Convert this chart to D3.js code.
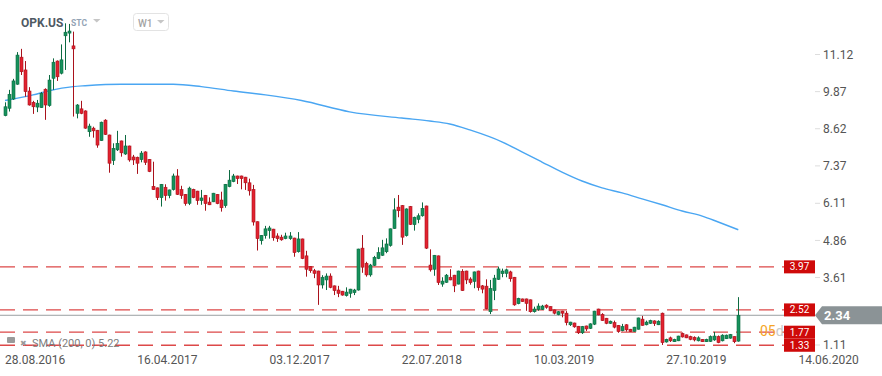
<!DOCTYPE html>
<html>
<head>
<meta charset="utf-8">
<script src="https://cdn.jsdelivr.net/npm/d3@7"></script>
<style>
  body { margin: 0; background: #fff; }
  svg { display: block; font-family: Roboto, 'Open Sans', sans-serif; }
</style>
</head>
<body>
<div id="chart"></div>
<script>
/* ===== Weekly candles, OPK.US ===== */

const FIRST_WEEK = '2016-08-28';

const OPEN = [
  9.06, 9.31, 9.62, 10.12, 11.03, 10.60, 9.89, 9.51, 9.35, 9.33,
  9.95, 9.40, 10.32, 10.90, 10.49, 11.75, 11.84, 11.41, 9.14, 9.29,
  9.22, 8.52, 8.64, 8.57, 8.22, 8.91, 8.41, 7.55, 7.91, 8.21,
  7.77, 8.04, 7.67, 7.66, 7.58, 7.84, 7.59, 6.68, 6.63, 6.30,
  6.65, 6.37, 6.57, 7.03, 6.57, 6.41, 6.11, 6.58, 6.52, 6.20,
  6.38, 6.15, 6.16, 6.41, 6.22, 6.03, 6.67, 6.84, 7.03, 7.03,
  6.99, 6.80, 6.58, 5.49, 4.85, 5.02, 5.19, 5.24, 5.01, 4.97,
  4.92, 4.92, 4.94, 4.48, 4.91, 4.34, 3.98, 3.84, 3.83, 3.36,
  3.53, 3.66, 3.33, 3.19, 3.15, 3.00, 3.08, 3.10, 3.19, 4.60,
  4.09, 3.70, 4.02, 4.25, 4.36, 4.48, 4.69, 5.26, 5.98, 6.03,
  5.02, 6.00, 5.39, 5.57, 5.69, 6.02, 4.03, 3.89, 4.34, 3.39,
  3.45, 3.62, 3.69, 3.39, 3.82, 3.83, 3.56, 3.48, 3.83, 3.33,
  3.32, 2.46, 3.17, 3.55, 3.74, 3.75, 3.80, 3.62, 2.73, 2.89,
  2.89, 2.86, 2.46, 2.54, 2.54, 2.68, 2.63, 2.52, 2.36, 2.48,
  2.41, 2.02, 2.08, 1.97, 1.75, 1.98, 1.90, 2.04, 2.55, 2.37,
  2.24, 2.07, 2.09, 2.00, 1.82, 2.02, 1.87, 1.80, 1.87, 2.21,
  2.02, 2.07, 2.15, 2.02, 2.41, 1.44, 1.58, 1.45, 1.48, 1.73,
  1.68, 1.62, 1.60, 1.48, 1.53, 1.45, 1.46, 1.51, 1.62, 1.48,
  1.55, 1.57, 1.62, 1.47
];

const HIGH = [
  9.51, 9.93, 10.30, 11.20, 11.31, 10.90, 10.02, 9.56, 9.59, 9.86,
  9.98, 10.43, 10.99, 10.92, 11.46, 12.17, 12.15, 11.89, 9.45, 9.56,
  9.24, 8.79, 8.69, 8.58, 8.86, 8.94, 8.42, 8.13, 8.55, 8.22,
  8.41, 8.05, 7.74, 7.68, 7.87, 7.86, 7.60, 7.51, 6.64, 6.76,
  6.75, 6.57, 7.11, 7.26, 6.70, 6.42, 6.67, 6.60, 6.53, 6.56,
  6.39, 6.31, 6.46, 6.42, 6.50, 6.76, 7.23, 7.10, 7.04, 7.04,
  7.00, 6.94, 6.73, 5.50, 5.04, 5.35, 5.35, 5.25, 5.10, 5.05,
  5.12, 5.14, 4.95, 5.14, 4.92, 4.51, 3.99, 3.90, 3.84, 3.69,
  3.75, 3.75, 3.34, 3.33, 3.16, 3.28, 3.23, 3.23, 4.58, 5.04,
  4.14, 4.07, 4.34, 4.63, 4.88, 4.93, 5.26, 6.28, 6.39, 6.05,
  5.94, 6.02, 5.66, 5.77, 6.14, 6.03, 4.56, 4.37, 4.35, 3.62,
  3.73, 3.89, 3.70, 3.84, 3.89, 3.84, 3.62, 3.81, 3.84, 3.36,
  3.55, 3.53, 3.70, 3.98, 3.91, 3.91, 3.84, 3.63, 2.93, 2.90,
  2.90, 2.87, 2.63, 2.74, 2.69, 2.71, 2.64, 2.53, 2.48, 2.49,
  2.48, 2.12, 2.09, 1.98, 1.98, 1.99, 2.07, 2.49, 2.56, 2.41,
  2.25, 2.16, 2.16, 2.01, 2.05, 2.04, 1.88, 1.95, 2.26, 2.32,
  2.16, 2.19, 2.17, 2.17, 2.43, 1.55, 1.62, 1.55, 1.65, 1.76,
  1.69, 1.65, 1.63, 1.63, 1.54, 1.55, 1.66, 1.78, 1.66, 1.70,
  1.69, 1.71, 1.63, 2.95
];

const LOW = [
  9.04, 9.20, 9.59, 10.10, 10.43, 9.70, 9.40, 9.12, 9.18, 9.32,
  8.92, 9.36, 9.93, 10.23, 10.45, 10.60, 11.53, 9.03, 8.97, 9.11,
  8.62, 8.35, 8.32, 7.98, 8.21, 8.41, 7.14, 7.40, 7.87, 7.68,
  7.74, 7.51, 7.40, 7.10, 7.49, 7.40, 7.16, 6.56, 6.22, 6.00,
  6.20, 6.28, 6.54, 6.39, 6.26, 6.03, 6.05, 6.28, 6.06, 6.06,
  5.86, 6.05, 6.15, 6.08, 5.83, 5.96, 6.65, 6.82, 6.76, 6.58,
  6.56, 6.37, 5.36, 4.52, 4.72, 4.92, 4.92, 4.85, 4.81, 4.85,
  4.90, 4.88, 4.31, 4.45, 4.23, 3.64, 3.77, 3.59, 2.69, 3.24,
  3.19, 3.25, 3.02, 2.95, 3.00, 2.97, 2.93, 3.02, 3.17, 3.77,
  3.64, 3.64, 4.00, 4.23, 4.34, 4.43, 4.65, 5.25, 5.64, 4.71,
  4.99, 5.38, 5.19, 5.44, 5.66, 4.57, 3.81, 3.67, 3.36, 3.30,
  3.43, 3.52, 3.12, 3.38, 3.16, 3.39, 3.37, 3.25, 3.17, 3.08,
  2.54, 2.38, 2.85, 3.53, 3.62, 3.62, 3.47, 2.66, 2.71, 2.79,
  2.49, 2.43, 2.43, 2.49, 2.52, 2.56, 2.48, 2.37, 2.34, 2.27,
  2.00, 1.98, 1.92, 1.71, 1.71, 1.81, 1.88, 2.01, 2.34, 2.15,
  2.04, 2.05, 1.90, 1.75, 1.80, 1.79, 1.78, 1.79, 1.86, 1.99,
  2.00, 2.05, 1.98, 2.01, 1.34, 1.42, 1.44, 1.44, 1.47, 1.59,
  1.57, 1.50, 1.46, 1.46, 1.44, 1.44, 1.44, 1.48, 1.40, 1.46,
  1.54, 1.55, 1.40, 1.45
];

const CLOSE = [
  9.36, 9.78, 10.23, 11.10, 10.54, 9.87, 9.42, 9.36, 9.48, 9.81,
  9.42, 10.26, 10.86, 10.37, 10.94, 11.87, 11.91, 11.31, 9.42, 9.14,
  8.64, 8.71, 8.55, 8.07, 8.84, 8.43, 7.46, 7.96, 8.13, 7.81,
  8.04, 7.57, 7.57, 7.46, 7.80, 7.49, 7.18, 6.57, 6.30, 6.75,
  6.37, 6.56, 7.03, 6.41, 6.37, 6.10, 6.62, 6.30, 6.20, 6.29,
  6.10, 6.06, 6.45, 6.10, 5.96, 6.75, 6.89, 7.03, 6.94, 6.94,
  6.80, 6.53, 5.48, 4.92, 5.03, 5.25, 5.28, 4.95, 4.92, 4.88,
  5.01, 5.01, 4.45, 4.91, 4.25, 3.89, 3.84, 3.75, 3.36, 3.62,
  3.66, 3.28, 3.17, 3.08, 3.02, 3.12, 3.22, 3.19, 4.57, 3.96,
  3.70, 4.03, 4.29, 4.45, 4.61, 4.74, 5.25, 5.89, 5.86, 4.97,
  5.92, 5.40, 5.64, 5.69, 5.94, 4.60, 3.87, 4.36, 3.44, 3.49,
  3.69, 3.53, 3.33, 3.83, 3.17, 3.53, 3.44, 3.80, 3.27, 3.22,
  2.56, 3.24, 3.59, 3.90, 3.83, 3.87, 3.57, 2.69, 2.91, 2.80,
  2.74, 2.46, 2.55, 2.65, 2.65, 2.61, 2.49, 2.41, 2.46, 2.41,
  2.09, 2.11, 1.95, 1.75, 1.96, 1.88, 2.05, 2.48, 2.35, 2.16,
  2.07, 2.14, 1.94, 1.79, 1.96, 1.85, 1.79, 1.94, 2.25, 2.00,
  2.11, 2.16, 2.06, 2.14, 1.42, 1.53, 1.48, 1.53, 1.64, 1.61,
  1.58, 1.53, 1.51, 1.58, 1.45, 1.53, 1.62, 1.64, 1.42, 1.67,
  1.67, 1.69, 1.45, 2.34
];

// SMA(200): week index -> value
const SMA_WEEK  = [0, 7, 11, 17, 20, 29, 42, 49, 57, 65, 74, 86, 99, 106, 111, 116, 124, 129, 134, 139, 144, 149, 154, 159, 164, 169, 174, 178, 183];
const SMA_VALUE = [9.57, 9.76, 9.90, 10.04, 10.07, 10.12, 10.12, 10.04, 9.89, 9.76, 9.57, 9.19, 8.98, 8.88, 8.78, 8.58, 8.18, 7.84, 7.50, 7.16, 6.86, 6.63, 6.46, 6.26, 6.06, 5.85, 5.68, 5.48, 5.22];

const PRICE_TICKS = [11.12, 9.87, 8.62, 7.37, 6.11, 4.86, 3.61, 1.11];
const DATE_TICKS = ['28.08.2016', '16.04.2017', '03.12.2017', '22.07.2018', '10.03.2019', '27.10.2019', '14.06.2020'];
const LEVELS = [3.97, 2.52, 1.77, 1.33];
const LAST_PRICE = 2.34;

const WIDTH = 882, HEIGHT = 376;
const UP = '#16925c', UP_EDGE = '#0c6a41';
const DOWN = '#e2222f', DOWN_EDGE = '#a9121c';

const parseDay = d3.utcParse('%d.%m.%Y');
const firstWeek = d3.utcParse('%Y-%m-%d')(FIRST_WEEK);
const weekDate = i => d3.utcDay.offset(firstWeek, i * 7);

const x = d3.scaleUtc()
  .domain([firstWeek, parseDay('14.06.2020')])
  .range([5, 798.4]);

const y = d3.scaleLinear()
  .domain([1.11, 11.12])
  .range([351.8, 54.5]);

const svg = d3.select('#chart').append('svg')
  .attr('width', WIDTH)
  .attr('height', HEIGHT);

// Header
svg.append('text').attr('x', 21).attr('y', 27)
  .text('OPK.US')
  .style('font-size', '12px').style('font-weight', 700).style('fill', '#4f5963');
svg.append('text').attr('x', 71).attr('y', 25.5)
  .text('STC')
  .style('font-size', '8.5px').style('font-weight', 700).style('fill', '#93a3b5');
svg.append('path').attr('d', 'M93,19 L100.5,19 L96.75,22.5 Z').attr('fill', '#c6c6c6');
svg.append('rect')
  .attr('x', 133.5).attr('y', 13.5).attr('width', 35).attr('height', 17).attr('rx', 3)
  .attr('fill', '#fff').attr('stroke', '#e3e3e3');
svg.append('text').attr('x', 138).attr('y', 26.5)
  .text('W1')
  .style('font-size', '10px').style('font-weight', 500).style('fill', '#a3a3a3');
svg.append('path').attr('d', 'M157,20 L164.5,20 L160.75,23.5 Z').attr('fill', '#c6c6c6');

// Support / resistance levels
svg.append('g').selectAll('line')
  .data(LEVELS)
  .join('line')
  .attr('x1', 0).attr('x2', 784)
  .attr('y1', d => y(d)).attr('y2', d => y(d))
  .attr('stroke', '#d82a2a').attr('stroke-width', 1.3)
  .attr('stroke-dasharray', '15,8').attr('opacity', 0.85);

// Last price line
svg.append('line')
  .attr('x1', 0).attr('x2', 815)
  .attr('y1', y(LAST_PRICE)).attr('y2', y(LAST_PRICE))
  .attr('stroke', '#9a9fa2').attr('stroke-width', 1);

// SMA line
const smaLine = d3.line()
  .x((d, i) => x(weekDate(SMA_WEEK[i])))
  .y(d => y(d))
  .curve(d3.curveMonotoneX);
svg.append('path')
  .attr('d', smaLine(SMA_VALUE))
  .attr('fill', 'none').attr('stroke', '#4aa6f2').attr('stroke-width', 1.4);

// Candles
const candles = OPEN.map((o, i) => ({ date: weekDate(i), o, h: HIGH[i], l: LOW[i], c: CLOSE[i] }));
const cg = svg.append('g');
candles.forEach(d => {
  const up = d.c >= d.o;
  const cx = Math.round(x(d.date)) + 0.5;
  cg.append('line')
    .attr('x1', cx).attr('x2', cx)
    .attr('y1', y(d.h)).attr('y2', y(d.l))
    .attr('stroke', up ? UP_EDGE : DOWN_EDGE).attr('stroke-width', 1);
  const top = y(Math.max(d.o, d.c));
  const bot = y(Math.min(d.o, d.c));
  cg.append('rect')
    .attr('x', cx - 1.5).attr('y', top)
    .attr('width', 3).attr('height', Math.max(1, bot - top))
    .attr('fill', up ? UP : DOWN)
    .attr('stroke', up ? UP_EDGE : DOWN_EDGE).attr('stroke-width', 0.6);
});

// Date axis
svg.append('g').selectAll('text')
  .data(DATE_TICKS)
  .join('text')
  .attr('x', d => x(parseDay(d)))
  .attr('y', 364)
  .text(d => d)
  .style('font-size', '12px').style('fill', '#555');

// Price axis
const pg = svg.append('g');
PRICE_TICKS.forEach(v => {
  const ty = Math.min(y(v), 345);
  pg.append('line')
    .attr('x1', 815).attr('x2', 820).attr('y1', ty).attr('y2', ty)
    .attr('stroke', '#ddd');
  pg.append('text')
    .attr('x', 823).attr('y', ty).attr('dy', '0.35em')
    .text(v.toFixed(2))
    .style('font-size', '12px').style('fill', '#555');
});

// Countdown text, partly hidden by the level boxes
const cd = svg.append('text').attr('x', 760).attr('y', 336)
  .style('font-size', '14px');
cd.append('tspan').text('05').style('fill', '#f5a524');
cd.append('tspan').text('d').style('fill', '#c9c9c9');

// Level boxes
LEVELS.forEach(v => {
  svg.append('rect')
    .attr('x', 784).attr('y', y(v) - 6.5)
    .attr('width', 31).attr('height', 13)
    .attr('fill', '#cf0a0a');
  svg.append('text')
    .attr('x', 799.5).attr('y', y(v)).attr('dy', '0.35em')
    .attr('text-anchor', 'middle')
    .text(v.toFixed(2))
    .style('font-size', '10px').style('fill', '#fff');
});

// Last price tag
const ly = y(LAST_PRICE);
svg.append('path')
  .attr('d', `M815,${ly} L822,${ly - 9} L882,${ly - 9} L882,${ly + 9} L822,${ly + 9} Z`)
  .attr('fill', '#8b9396');
svg.append('text')
  .attr('x', 824).attr('y', ly).attr('dy', '0.36em')
  .text(LAST_PRICE.toFixed(2))
  .style('font-size', '13px').style('font-weight', 700).style('fill', '#fff');

// SMA legend
const lg = svg.append('g').style('fill', '#9a9a9a');
lg.append('rect').attr('x', 7).attr('y', 337).attr('width', 8).attr('height', 6).attr('rx', 1);
lg.append('text').attr('x', 20).attr('y', 346).text('✖').style('font-size', '8px');
lg.append('text').attr('x', 32).attr('y', 347)
  .text('SMA (200, 0) 5.22')
  .style('font-size', '11px').style('fill', '#7d7d7d');
</script>
</body>
</html>
